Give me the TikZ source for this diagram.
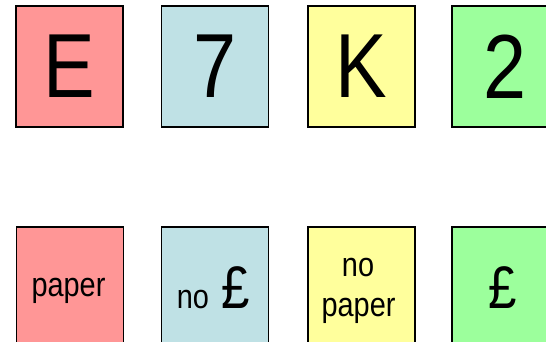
\documentclass[tikz,border=0pt]{standalone}
\usepackage{fontspec}
\setmainfont[FakeStretch=0.85]{Liberation Sans}
\definecolor{cred}{HTML}{FF9696}
\definecolor{cblue}{HTML}{BFE1E5}
\definecolor{cyellow}{HTML}{FFFF9C}
\definecolor{cgreen}{HTML}{9CFF9C}
\begin{document}
\begin{tikzpicture}[x=1pt,y=-1pt,
  card/.style={draw=black, line width=1.5pt, minimum width=107pt, minimum height=121pt, inner sep=0pt},
  big/.style={font=\fontsize{91}{91}\selectfont},
  lbl/.style={font=\fontsize{34}{34}\selectfont, anchor=base, inner sep=0pt},
  pound/.style={font=\fontsize{60}{60}\selectfont, anchor=base, inner sep=0pt}]
\useasboundingbox (0,0) rectangle (546,342);
\clip (0,0) rectangle (546,342);
% top row
\node[card, fill=cred, big] (e) at (69.5,66.5) {E};
\node[card, fill=cblue, big] (seven) at (215,66.5) {7};
\node[card, fill=cyellow, big] (k) at (361.5,66.5) {K};
\node[card, fill=cgreen, big] (two) at (505.5,66.5) {2};
% bottom row
\node[card, fill=cred] (paper) at (70,287.5) {};
\node[card, fill=cblue] (nopound) at (215,287.5) {};
\node[card, fill=cyellow] (nopaper) at (361.5,287.5) {};
\node[card, fill=cgreen] (pound) at (505.5,287.5) {};
% labels
\node[lbl] (t1) at (68.5,296) {paper};
\node[lbl] (t2) at (193,308) {no};
\node[pound] (t3) at (236,308) {£};
\node[lbl] (t4) at (358,276) {no};
\node[lbl] (t5) at (358.5,316) {paper};
\node[pound] (t6) at (503,308) {£};
\end{tikzpicture}
\end{document}
